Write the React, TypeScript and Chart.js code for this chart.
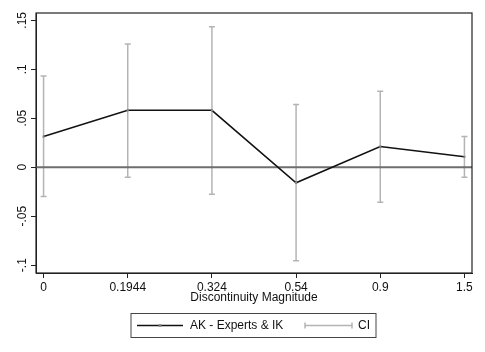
import React, { useEffect, useRef } from "react";
import { Chart, registerables } from "chart.js";

Chart.register(...registerables);

const xLabels = ["0", "0.1944", "0.324", "0.54", "0.9", "1.5"];
const estimates = [0.0313, 0.0581, 0.0581, -0.0159, 0.0211, 0.0106];
const ciLow = [-0.0299, -0.0102, -0.0275, -0.0955, -0.0357, -0.0102];
const ciHigh = [0.0932, 0.1259, 0.1435, 0.064, 0.0775, 0.0313];
const yTicks = [-0.1, -0.05, 0, 0.05, 0.1, 0.15];
const yTickLabels = ["-.1", "-.05", "0", ".05", ".1", ".15"];
const xTitle = "Discontinuity Magnitude";
const legendMain = "AK - Experts & IK";
const legendCI = "CI";

const FONT = "'Liberation Sans', Arial, Helvetica, sans-serif";

const overlay = {
  id: "stataOverlay",
  beforeDatasetsDraw(chart: any) {
    const { ctx, chartArea, scales } = chart;
    const xs = scales.x;
    const ys = scales.y;
    ctx.save();
    // CI bars
    ctx.strokeStyle = "#b4b4b4";
    ctx.lineWidth = 1.5;
    for (let i = 0; i < estimates.length; i++) {
      const px = xs.getPixelForValue(i);
      const top = ys.getPixelForValue(ciHigh[i]);
      const bot = ys.getPixelForValue(ciLow[i]);
      ctx.beginPath();
      ctx.moveTo(px, top);
      ctx.lineTo(px, bot);
      ctx.moveTo(px - 3, top);
      ctx.lineTo(px + 3, top);
      ctx.moveTo(px - 3, bot);
      ctx.lineTo(px + 3, bot);
      ctx.stroke();
    }
    // zero line
    const y0 = ys.getPixelForValue(0);
    ctx.strokeStyle = "#6e6e6e";
    ctx.lineWidth = 2;
    ctx.beginPath();
    ctx.moveTo(chartArea.left, y0);
    ctx.lineTo(chartArea.right, y0);
    ctx.stroke();
    ctx.restore();
  },
  afterDraw(chart: any) {
    const { ctx, chartArea, scales } = chart;
    const ys = scales.y;
    ctx.save();
    // plot region box
    ctx.strokeStyle = "#222";
    ctx.lineWidth = 1.2;
    ctx.strokeRect(chartArea.left, chartArea.top, chartArea.right - chartArea.left, chartArea.bottom - chartArea.top);
    // y tick labels, rotated
    ctx.fillStyle = "#111";
    ctx.font = `12px ${FONT}`;
    ctx.textAlign = "center";
    ctx.textBaseline = "alphabetic";
    for (let i = 0; i < yTicks.length; i++) {
      const py = ys.getPixelForValue(yTicks[i]);
      ctx.save();
      ctx.translate(chartArea.left - 10.5, py);
      ctx.rotate(-Math.PI / 2);
      ctx.fillText(yTickLabels[i], 0, 0);
      ctx.restore();
    }
    // x title
    ctx.textBaseline = "middle";
    ctx.fillText(xTitle, (chartArea.left + chartArea.right) / 2, 297.5);
    // legend
    const lx0 = 131, lx1 = 376, ly0 = 313.5, ly1 = 337.5;
    const lyc = (ly0 + ly1) / 2;
    ctx.strokeStyle = "#444";
    ctx.lineWidth = 1;
    ctx.strokeRect(lx0, ly0, lx1 - lx0, ly1 - ly0);
    ctx.strokeStyle = "#111";
    ctx.lineWidth = 1.5;
    ctx.beginPath();
    ctx.moveTo(137, lyc);
    ctx.lineTo(183, lyc);
    ctx.stroke();
    ctx.fillStyle = "#888";
    ctx.fillRect(158.5, lyc - 1.5, 3, 3);
    ctx.fillStyle = "#111";
    ctx.textAlign = "left";
    ctx.fillText(legendMain, 190, lyc);
    ctx.strokeStyle = "#b4b4b4";
    ctx.lineWidth = 1.5;
    ctx.beginPath();
    ctx.moveTo(305, lyc);
    ctx.lineTo(352, lyc);
    ctx.moveTo(305, lyc - 3);
    ctx.lineTo(305, lyc + 3);
    ctx.moveTo(352, lyc - 3);
    ctx.lineTo(352, lyc + 3);
    ctx.stroke();
    ctx.fillText(legendCI, 358, lyc);
    ctx.restore();
  },
};

export default function App() {
  const ref = useRef<HTMLCanvasElement | null>(null);
  useEffect(() => {
    if (!ref.current) return;
    const chart = new Chart(ref.current, {
      type: "line",
      data: {
        datasets: [
          {
            label: legendMain,
            data: estimates.map((v, i) => ({ x: i, y: v })),
            borderColor: "#111",
            borderWidth: 1.5,
            pointStyle: "rect",
            pointRadius: 1.5,
            pointBackgroundColor: "#888",
            pointBorderColor: "#888",
            pointBorderWidth: 0,
            tension: 0,
            fill: false,
          },
        ],
      },
      options: {
        animation: false,
        responsive: false,
        devicePixelRatio: 1,
        layout: { padding: { top: 13, right: 13, left: 0, bottom: 0 } },
        plugins: { legend: { display: false }, tooltip: { enabled: false } },
        scales: {
          x: {
            type: "linear",
            min: -0.09,
            max: 5.09,
            afterBuildTicks: (s: any) => {
              s.ticks = xLabels.map((_, i) => ({ value: i }));
            },
            afterFit: (s: any) => {
              s.height = 79;
            },
            ticks: {
              callback: (v: any) => xLabels[v] ?? "",
              font: { family: FONT, size: 12 },
              color: "#111",
              padding: 2,
              maxRotation: 0,
              autoSkip: false,
            },
            grid: { drawOnChartArea: false, drawTicks: true, tickLength: 5, color: "#222", lineWidth: 1 },
            border: { display: true, color: "#222", width: 1 },
          },
          y: {
            type: "linear",
            min: -0.108,
            max: 0.1575,
            afterBuildTicks: (s: any) => {
              s.ticks = yTicks.map((v) => ({ value: v }));
            },
            afterFit: (s: any) => {
              s.width = 36;
            },
            ticks: { display: false },
            grid: { drawOnChartArea: false, drawTicks: true, tickLength: 5, color: "#222", lineWidth: 1 },
            border: { display: true, color: "#222", width: 1 },
          },
        },
      },
      plugins: [overlay],
    });
    return () => chart.destroy();
  }, []);
  return (
    <div style={{ position: "absolute", left: 0, top: 0, width: 485, height: 352, background: "#fff" }}>
      <canvas ref={ref} width={485} height={352} />
    </div>
  );
}
